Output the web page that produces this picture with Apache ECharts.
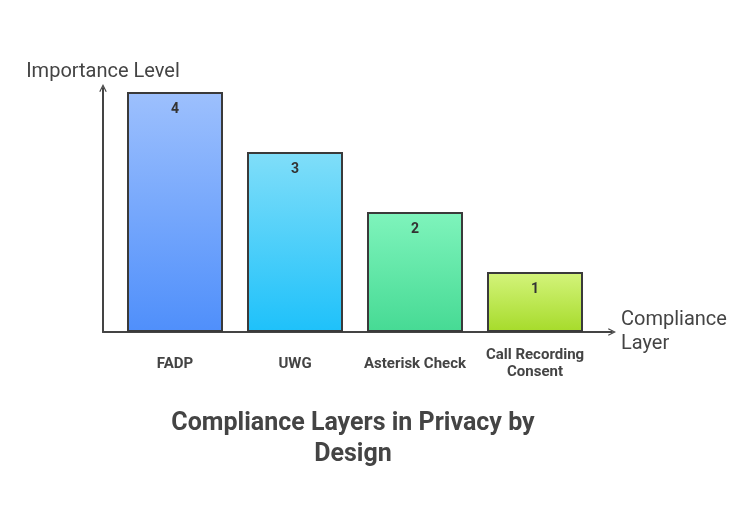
<!DOCTYPE html>
<html>
<head>
<meta charset="utf-8">
<script src="https://cdn.jsdelivr.net/npm/echarts@6/dist/echarts.min.js"></script>
<style>
  html, body { margin: 0; padding: 0; background: #fff; }
  #chart { width: 754px; height: 511px; }
</style>
</head>
<body>
<div id="chart"></div>
<script>
// data
const categories = ['FADP', 'UWG', 'Asterisk Check', 'Call Recording\nConsent'];
const values = [4, 3, 2, 1];
const topColors = ['#9dc0fd', '#80def9', '#7ff4bc', '#d4f47c'];
const bottomColors = ['#4f8ffb', '#1ec1fa', '#46da94', '#a6db2a'];

const arrow = 'path://M0,10 L5,0 L10,10 L8.6,10.7 L5,3.2 L1.4,10.7 Z';

let myChart = echarts.init(document.getElementById('chart'));

const barData = values.map(function (v, i) {
    return {
        value: v,
        itemStyle: {
            color: new echarts.graphic.LinearGradient(0, 0, 0, 1, [
                { offset: 0, color: topColors[i] },
                { offset: 1, color: bottomColors[i] }
            ])
        }
    };
});

option = {
    animation: false,
    textStyle: { fontFamily: 'Roboto' },
    title: {
        text: 'Compliance Layers in Privacy by\nDesign',
        left: 348,
        textAlign: 'center',
        top: 403,
        textStyle: {
            fontFamily: 'Roboto',
            fontSize: 25,
            fontWeight: 'bold',
            color: '#444',
            lineHeight: 31
        }
    },
    grid: [
        { left: 115, right: 159, top: 88, bottom: 179 },
        { left: 103, right: 142, top: 88, bottom: 179 }
    ],
    xAxis: [
        {
            type: 'category',
            gridIndex: 0,
            data: categories,
            axisLine: { show: false },
            axisTick: { show: false },
            axisLabel: {
                margin: 32,
                verticalAlign: 'middle',
                fontSize: 15,
                fontWeight: 'bold',
                color: '#444',
                lineHeight: 17,
                interval: 0
            }
        },
        {
            type: 'value',
            gridIndex: 1,
            min: 0,
            max: 1,
            axisLine: {
                show: true,
                symbol: ['none', arrow],
                symbolSize: [14, 8],
                lineStyle: { color: '#444', width: 2 }
            },
            axisTick: { show: false },
            axisLabel: { show: false },
            splitLine: { show: false },
            name: 'Compliance\nLayer',
            nameLocation: 'end',
            nameGap: 9,
            nameTextStyle: { fontSize: 20, color: '#444', lineHeight: 24, align: 'left', verticalAlign: 'middle', padding: [18, 0, 0, 0] }
        }
    ],
    yAxis: [
        {
            type: 'value',
            gridIndex: 0,
            min: 0,
            max: 4.0667,
            offset: 12,
            axisLine: {
                show: true,
                symbol: ['none', arrow],
                symbolSize: [14, 8],
                lineStyle: { color: '#444', width: 2 }
            },
            axisTick: { show: false },
            axisLabel: { show: false },
            splitLine: { show: false },
            name: 'Importance Level',
            nameLocation: 'end',
            nameGap: 6,
            nameTextStyle: { fontSize: 20, color: '#444' }
        },
        {
            type: 'value',
            gridIndex: 1,
            show: false
        }
    ],
    series: [
        {
            type: 'bar',
            xAxisIndex: 0,
            yAxisIndex: 0,
            barWidth: 96,
            data: barData,
            itemStyle: { borderColor: '#3a3a3a', borderWidth: 2 },
            label: {
                show: true,
                position: 'insideTop',
                distance: 10,
                fontSize: 14,
                fontWeight: 'bold',
                color: '#333'
            }
        }
    ]
};
myChart.setOption(option);
</script>
</body>
</html>
